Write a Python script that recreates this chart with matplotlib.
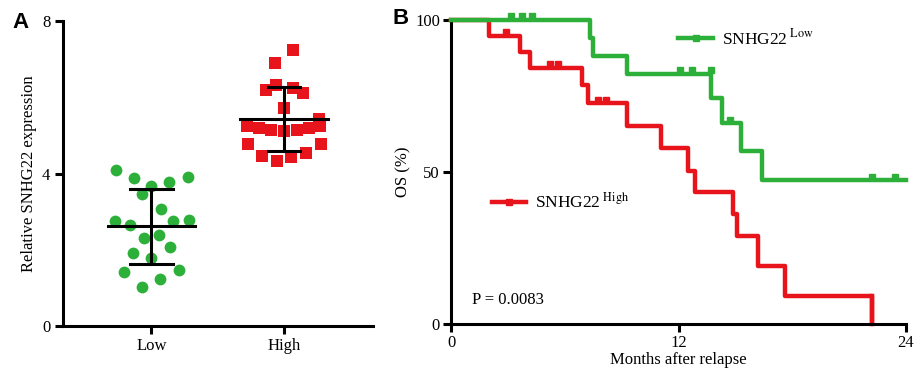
import numpy as np
import matplotlib.pyplot as plt
from matplotlib.lines import Line2D

plt.rcParams['font.family'] = ['Liberation Serif', 'DejaVu Serif']
plt.rcParams['mathtext.fontset'] = 'stix'

# Panel A: scatter of relative expression
low_vals = [4.09, 3.89, 3.68, 3.79, 3.92, 3.46, 3.06, 2.75, 2.65, 2.75,
            2.78, 2.31, 2.39, 1.92, 2.07, 1.79, 1.42, 1.48, 1.22, 1.01]
low_dx = [-0.267, -0.134, 0.0, 0.134, 0.272, -0.068, 0.071, -0.277, -0.164, 0.166,
          0.28, -0.055, 0.06, -0.139, 0.139, 0.0, -0.209, 0.209, 0.068, -0.068]
high_vals = [7.24, 6.90, 6.31, 6.18, 6.25, 6.11, 5.72, 5.44,
             5.25, 5.20, 5.15, 5.12, 5.15, 5.20, 5.25,
             4.78, 4.78, 4.46, 4.55, 4.32, 4.43]
high_dx = [0.07, -0.07, -0.065, -0.139, 0.07, 0.141, 0.0, 0.264,
           -0.28, -0.19, -0.1, 0.0, 0.1, 0.19, 0.27,
           -0.27, 0.275, -0.165, 0.165, -0.055, 0.055]
low_mean, low_sd = 2.61, 0.98
high_mean, high_sd = 5.42, 0.84
groups = ['Low', 'High']

# Panel B: Kaplan-Meier steps (time, survival %)
green_t = [0, 7.33, 7.5, 9.26, 13.74, 14.3, 15.3, 16.4, 24]
green_s = [100, 94.1, 88.2, 82.4, 74.3, 66.0, 56.8, 47.3, 47.3]
green_cens_t = [3.16, 3.72, 4.25, 12.07, 12.69, 13.69, 14.7, 22.2, 23.4]
green_cens_s = [100, 100, 100, 82.4, 82.4, 82.4, 66.0, 47.3, 47.3]
red_t = [0, 2.02, 3.64, 4.17, 6.89, 7.24, 9.26, 11.1, 12.5, 12.85, 14.9, 15.1, 16.2, 17.6, 22.2]
red_s = [100, 94.7, 89.5, 84.2, 78.5, 72.6, 65.0, 57.9, 50.3, 43.5, 36.3, 28.8, 19.0, 9.3, 0]
red_cens_t = [2.9, 5.22, 5.66, 7.77, 8.15]
red_cens_s = [94.7, 84.2, 84.2, 72.6, 72.6]

GREEN = '#2db039'
RED = '#e8141c'

fig = plt.figure(figsize=(9.17, 3.78), dpi=100)

# ---- Panel A ----
ax1 = fig.add_axes([63/917, 52/378, 310/917, 305/378])
ax1.scatter(1 + np.array(low_dx), low_vals, s=72, color=GREEN, zorder=2, linewidths=0)
ax1.scatter(2 + np.array(high_dx), high_vals, s=78, marker='s', color=RED, zorder=2, linewidths=0)
for x, m, sd, cap in [(1, low_mean, low_sd, 0.165), (2, high_mean, high_sd, 0.12)]:
    ax1.plot([x - 0.33, x + 0.33], [m, m], color='black', lw=2.2, zorder=3)
    ax1.plot([x, x], [m - sd, m + sd], color='black', lw=2.2, zorder=3)
    ax1.plot([x - cap, x + cap], [m + sd, m + sd], color='black', lw=2.2, zorder=3)
    ax1.plot([x - cap, x + cap], [m - sd, m - sd], color='black', lw=2.2, zorder=3)
ax1.set_xlim(0.333, 2.67)
ax1.set_ylim(0, 8)
ax1.set_xticks([1, 2])
ax1.set_xticklabels(groups)
ax1.set_yticks([0, 4, 8])
ax1.set_ylabel('Relative SNHG22 expression', fontsize=12, labelpad=4)
for s in ['top', 'right']:
    ax1.spines[s].set_visible(False)
for s in ['left', 'bottom']:
    ax1.spines[s].set_linewidth(2.2)
ax1.tick_params(width=2.2, length=6, labelsize=12, pad=3)
fig.text(12/917, 1 - 22/378, 'A', fontsize=16, fontweight='bold',
         family='Liberation Sans', va='center')

# ---- Panel B ----
ax2 = fig.add_axes([451/917, 54/378, 455/917, 304/378])
ax2.step(green_t, green_s, where='post', color=GREEN, lw=3.2, zorder=3, clip_on=False)
ax2.step(red_t, red_s, where='post', color=RED, lw=3.2, zorder=2, clip_on=False)
ax2.plot([red_t[-1], red_t[-1]], [red_s[-2], 0], color=RED, lw=3.2, zorder=2)
ax2.plot(green_cens_t, np.array(green_cens_s) + 1.2, ls='none', marker='s',
         ms=4.5, color=GREEN, zorder=3, clip_on=False)
ax2.plot(red_cens_t, np.array(red_cens_s) + 1.2, ls='none', marker='s',
         ms=4.5, color=RED, zorder=2)
ax2.set_xlim(0, 24)
ax2.set_ylim(0, 100)
ax2.set_xticks([0, 12, 24])
ax2.set_yticks([0, 50, 100])
ax2.set_xlabel('Months after relapse', fontsize=12, labelpad=1)
ax2.set_ylabel('OS (%)', fontsize=12)
ax2.yaxis.set_label_coords(-0.086, 0.5)
for s in ['top', 'right']:
    ax2.spines[s].set_visible(False)
for s in ['left', 'bottom']:
    ax2.spines[s].set_linewidth(2.2)
ax2.tick_params(width=2.2, length=6, labelsize=12, pad=2)
ax2.text(0.047, 0.065, 'P = 0.0083', transform=ax2.transAxes, fontsize=12)

h_low = Line2D([], [], color=GREEN, lw=3.2, marker='s', ms=4.5, markevery=[1])
h_high = Line2D([], [], color=RED, lw=3.2, marker='s', ms=4.5, markevery=[1])
leg1 = ax2.legend([h_low], ['SNHG22$^{\\ \\mathrm{Low}}$'], loc='center left',
                  bbox_to_anchor=(0.465, 0.94), frameon=False, fontsize=12.5,
                  handlelength=2.0, handletextpad=0.5)
ax2.add_artist(leg1)
ax2.legend([h_high], ['SNHG22$^{\\ \\mathrm{High}}$'], loc='center left',
           bbox_to_anchor=(0.055, 0.40), frameon=False, fontsize=12.5,
           handlelength=2.0, handletextpad=0.5)
fig.text(393/917, 1 - 19/378, 'B', fontsize=16, fontweight='bold',
         family='Liberation Sans', va='center')

fig.savefig('out.png', dpi=100)
